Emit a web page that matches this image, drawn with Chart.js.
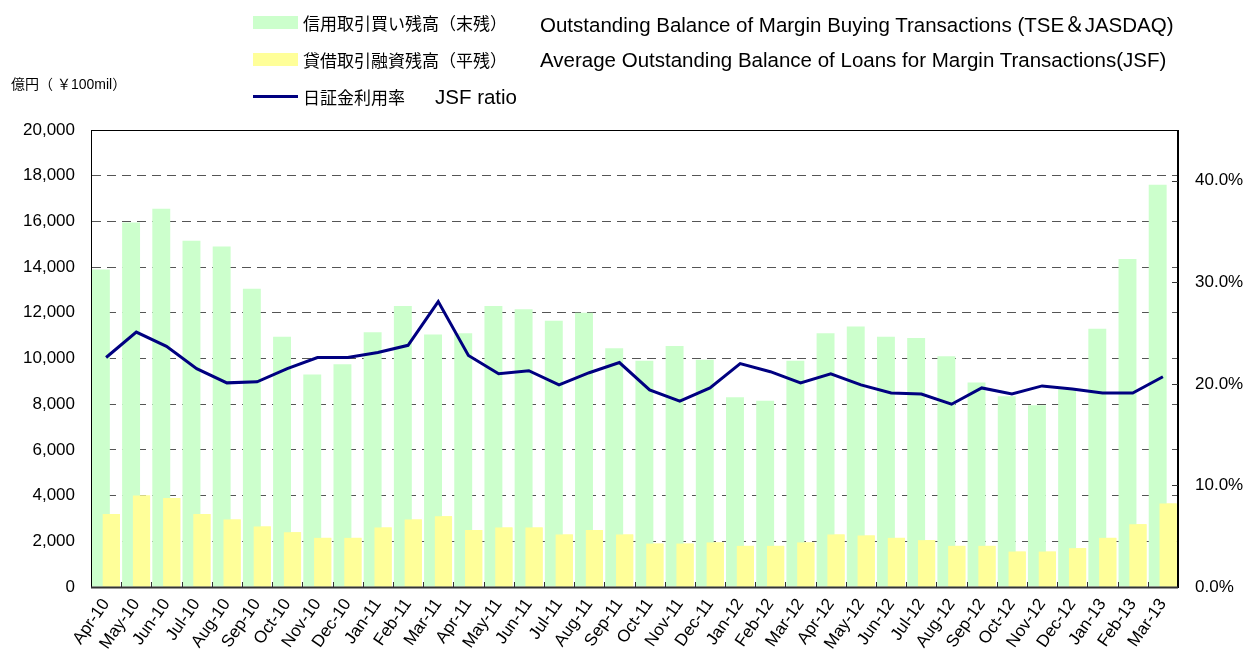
<!DOCTYPE html>
<html>
<head>
<meta charset="utf-8">
<script src="https://cdn.jsdelivr.net/npm/chart.js@4.4.1/dist/chart.umd.min.js"></script>
<style>
  body { margin: 0; background: #fff; }
  #wrap { position: relative; width: 1245px; height: 668px; font-family: "Liberation Sans", Arial, "Noto Sans CJK JP", sans-serif; }
  #unit { position: absolute; left: 11px; top: 73px; font-size: 14px; color: #000; }
  #js-legend { position: absolute; left: 253px; top: 4px; color: #000; }
  #js-legend ul { margin: 0; padding: 0; }
  #js-legend li { list-style: none; height: 37px; display: flex; align-items: center; white-space: pre; }
  #js-legend .jp { font-size: 17px; font-family: "Noto Sans CJK JP", sans-serif; }
  #js-legend .en { font-size: 20.5px; }
  #js-legend .swatch { display: inline-block; width: 45px; height: 13px; margin-right: 5px; }
  #js-legend .line { display: inline-block; width: 45px; height: 3px; margin-right: 5px; }
</style>
</head>
<body>
<div id="wrap">
  <canvas id="margin-chart"></canvas>
  <div id="unit">億円（ ￥100mil）</div>
  <div id="js-legend"></div>
</div>
<script>
let months = ['Apr-10','May-10','Jun-10','Jul-10','Aug-10','Sep-10','Oct-10','Nov-10','Dec-10',
  'Jan-11','Feb-11','Mar-11','Apr-11','May-11','Jun-11','Jul-11','Aug-11','Sep-11','Oct-11','Nov-11','Dec-11',
  'Jan-12','Feb-12','Mar-12','Apr-12','May-12','Jun-12','Jul-12','Aug-12','Sep-12','Oct-12','Nov-12','Dec-12',
  'Jan-13','Feb-13','Mar-13'];

// 信用取引買い残高 (末残), 億円
let marginBuying = [13900, 15950, 16550, 15150, 14900, 13050, 10950, 9300, 9750,
  11150, 12300, 11050, 11100, 12300, 12150, 11650, 12000, 10450, 9900, 10550, 9950,
  8300, 8150, 9900, 11100, 11400, 10950, 10900, 10100, 8950, 8350, 7950, 8650,
  11300, 14350, 17600];

// 貸借取引融資残高 (平残), 億円
let jsfLoans = [3200, 4000, 3900, 3200, 2950, 2650, 2400, 2150, 2150,
  2600, 2950, 3100, 2500, 2600, 2600, 2300, 2500, 2300, 1900, 1900, 1950,
  1800, 1800, 1950, 2300, 2250, 2150, 2050, 1800, 1800, 1550, 1550, 1700,
  2150, 2750, 3650];

// 日証金利用率, %
let jsfRatio = [22.6, 25.1, 23.7, 21.5, 20.1, 20.2, 21.5, 22.6, 22.6,
  23.1, 23.8, 28.1, 22.8, 21.0, 21.3, 19.9, 21.1, 22.1, 19.4, 18.3, 19.6,
  22.0, 21.2, 20.1, 21.0, 19.9, 19.1, 19.0, 18.0, 19.6, 19.0, 19.8, 19.5,
  19.1, 19.1, 20.7];

let legendJp = ['信用取引買い残高（末残）', '貸借取引融資残高（平残）', '日証金利用率'];
let legendEn = ['Outstanding Balance of Margin Buying Transactions (TSE＆JASDAQ)',
  'Average Outstanding Balance of Loans for Margin Transactions(JSF)',
  'JSF ratio'];

let colours = ['#ccffcc', '#ffff99', '#000080'];

let chartData = {
  labels: months,
  datasets: [
    { type: 'bar', label: legendJp[0], data: marginBuying, backgroundColor: colours[0],
      yAxisID: 'y', order: 1, categoryPercentage: 0.69, barPercentage: 1.72 },
    { type: 'bar', label: legendJp[1], data: jsfLoans, backgroundColor: colours[1],
      yAxisID: 'y', order: 2, categoryPercentage: 0.69, barPercentage: 1.65 },
    { type: 'line', label: legendJp[2], data: jsfRatio, borderColor: colours[2], borderWidth: 3,
      pointRadius: 0, tension: 0, yAxisID: 'y1', order: 0 }
  ]
};

// green sits left of yellow (order), but yellow has to be painted over green
const overlapPlugin = {
  id: 'overlap',
  afterDatasetDraw(chart, args) {
    if (args.index === 0) {
      chart.getDatasetMeta(1).controller.draw();
    }
  }
};

// frame + little inner tick marks like the spreadsheet original
const framePlugin = {
  id: 'frame',
  afterDatasetsDraw(chart) {
    const { ctx, chartArea: a, scales } = chart;
    ctx.save();
    ctx.strokeStyle = '#000';
    ctx.lineWidth = 1;
    ctx.strokeRect(a.left + 0.5, a.top + 0.5, a.right - a.left - 1, a.bottom - a.top);
    const n = months.length, w = (a.right - a.left) / n;
    ctx.strokeStyle = '#333';
    ctx.beginPath();
    for (let i = 1; i < n; i++) {
      const x = Math.round(a.left + i * w) + 0.5;
      ctx.moveTo(x, a.bottom);
      ctx.lineTo(x, a.bottom - 5);
    }
    [10, 20, 30, 40].forEach(v => {
      const y = Math.round(scales.y1.getPixelForValue(v)) + 0.5;
      ctx.moveTo(a.right, y);
      ctx.lineTo(a.right - 6, y);
    });
    ctx.stroke();
    ctx.lineWidth = 2;
    ctx.beginPath();
    ctx.moveTo(a.left, a.bottom + 0.5);
    ctx.lineTo(a.right, a.bottom + 0.5);
    ctx.stroke();
    ctx.restore();
  }
};

window.addEventListener('DOMContentLoaded', () => {
  const font = { family: '"Liberation Sans", Arial, sans-serif', size: 17 };
  new Chart(document.getElementById('margin-chart'), {
    data: chartData,
    options: {
      responsive: true,
      maintainAspectRatio: false,
      animation: false,
      layout: { padding: { top: 130, left: 0, right: 0, bottom: 0 } },
      plugins: { legend: { display: false }, tooltip: { enabled: false } },
      scales: {
        x: {
          offset: true,
          grid: { display: false },
          border: { display: false },
          ticks: { color: '#000', font: font, autoSkip: false, minRotation: 55, maxRotation: 55, padding: 0 },
          afterFit: (s) => { s.height = 81; }
        },
        y: {
          position: 'left',
          min: 0, max: 20000,
          ticks: { stepSize: 2000, color: '#000', font: font, padding: 16,
            callback: (v) => v.toLocaleString('en-US') },
          grid: {
            color: (c) => (c.tick && (c.tick.value === 0 || c.tick.value === 20000)) ? 'rgba(0,0,0,0)' : '#555',
            drawTicks: false,
            lineWidth: 1
          },
          border: { display: true, color: '#000', dash: [9, 6] },
          afterFit: (s) => { s.width = 91; }
        },
        y1: {
          position: 'right',
          min: 0, max: 45,
          ticks: { stepSize: 10, color: '#000', font: font, padding: 17,
            callback: (v) => v.toFixed(1) + '%' },
          afterBuildTicks: (s) => { s.ticks = s.ticks.filter(t => t.value <= 40); },
          grid: { display: false, drawTicks: false },
          border: { display: true, color: '#000' },
          afterFit: (s) => { s.width = 67; }
        }
      }
    },
    plugins: [overlapPlugin, framePlugin]
  });

  const ul = document.createElement('ul');
  legendJp.forEach((jp, i) => {
    const mark = i < 2 ? 'swatch' : 'line';
    const gap = i < 2 ? 33 : 30;
    ul.innerHTML += `<li><span class="${mark}" style="background-color: ${colours[i]}"></span>` +
      `<span class="jp">${jp}</span><span class="en" style="margin-left: ${gap}px">${legendEn[i]}</span></li>`;
  });
  document.getElementById('js-legend').appendChild(ul);
});
</script>
</body>
</html>
